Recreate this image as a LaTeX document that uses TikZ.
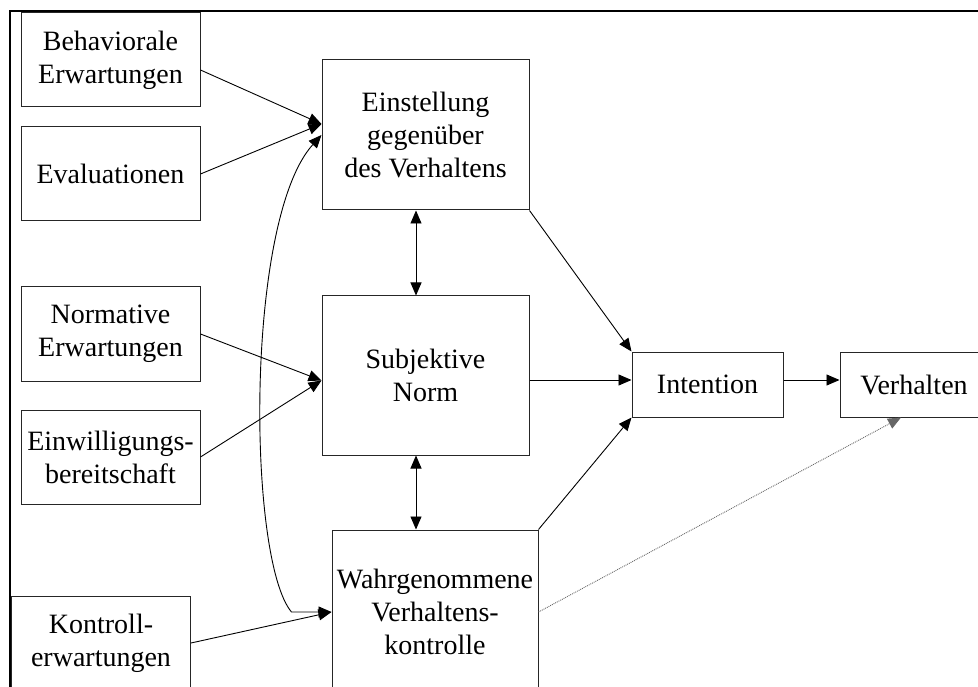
\documentclass[tikz,border=0pt]{standalone}
\usepackage{fontspec}
\setmainfont{Liberation Serif}
\usetikzlibrary{positioning, arrows.meta}

\begin{document}
\begin{tikzpicture}[
  x=1pt, y=-1pt,
  node distance=20pt,
  factor/.style={rectangle, draw=black!85, line width=1pt, minimum width=179pt, minimum height=94pt, inner sep=0pt, align=center, font=\fontsize{28}{33}\selectfont},
  construct/.style={factor, minimum width=207pt, minimum height=150pt},
  outcome/.style={factor, minimum width=151pt, minimum height=65pt},
  line/.style={draw, line width=0.9pt, -{Triangle[length=13pt, width=11pt]}},
  both/.style={line, {Triangle[length=13pt, width=11pt]}-{Triangle[length=13pt, width=11pt]}},
  hint/.style={draw=gray!80!black, line width=0.9pt, densely dotted, -{Triangle[length=13pt, width=11pt]}}
]
  \clip (0,0) rectangle (978,687);
  \draw [line width=2pt] (10,700) -- (10,11) -- (990,11);

  \node [factor] (behav) at (110.5,60) {Behaviorale\\Erwartungen};
  \node [factor, below=19pt of behav] (evaluation) {Evaluationen};
  \node [factor, below=65pt of evaluation] (normativ) {Normative\\Erwartungen};
  \node [factor, below=28pt of normativ] (einwillig) {Einwilligungs-\\bereitschaft};
  \node [factor] (kontroll) at (101,643) {Kontroll-\\erwartungen};

  \node [construct] (einstellung) at (425.5,135) {Einstellung\\gegenüber\\des Verhaltens};
  \node [construct, below=85pt of einstellung, minimum height=159pt] (norm) {Subjektive\\Norm};
  \node [construct, minimum width=206pt, minimum height=164pt] (wahr) at (435,612) {Wahrgenommene\\Verhaltens-\\kontrolle};

  \node [outcome] (intention) at (707.5,384.5) {Intention};
  \node [outcome, minimum width=148pt, right=56pt of intention] (verhalten) {Verhalten};

  \coordinate (axis) at (416,0);
  \coordinate (level) at (0,380);

  % inputs
  \draw [line] ([yshift=-10pt]behav.east) -- ([yshift=11pt]einstellung.west);
  \draw [line] (evaluation.east) -- ([yshift=11pt]einstellung.west);
  \draw [line] (normativ.east) -- ([yshift=-5pt]norm.west);
  \draw [line] (einwillig.east) -- ([yshift=-5pt]norm.west);
  \draw [line] (kontroll.east) -- (wahr.west);
  \draw [both] (einstellung.west) .. controls +(-77,85) and +(-44,-52) .. ([xshift=-40pt]wahr.west) -- (wahr.west);

  % between constructs
  \draw [both] (einstellung.south -| axis) -- (norm.north -| axis);
  \draw [both] (norm.south -| axis) -- (wahr.north -| axis);

  % to intention
  \draw [line] (einstellung.south east) -- (intention.north west);
  \draw [line] (norm.east |- level) -- (intention.west |- level);
  \draw [line] (wahr.north east) -- (intention.south west);
  \draw [line] (intention.east |- level) -- (verhalten.west |- level);
  \draw [hint] (wahr.east) -- ([xshift=-13pt]verhalten.south);
\end{tikzpicture}
\end{document}
